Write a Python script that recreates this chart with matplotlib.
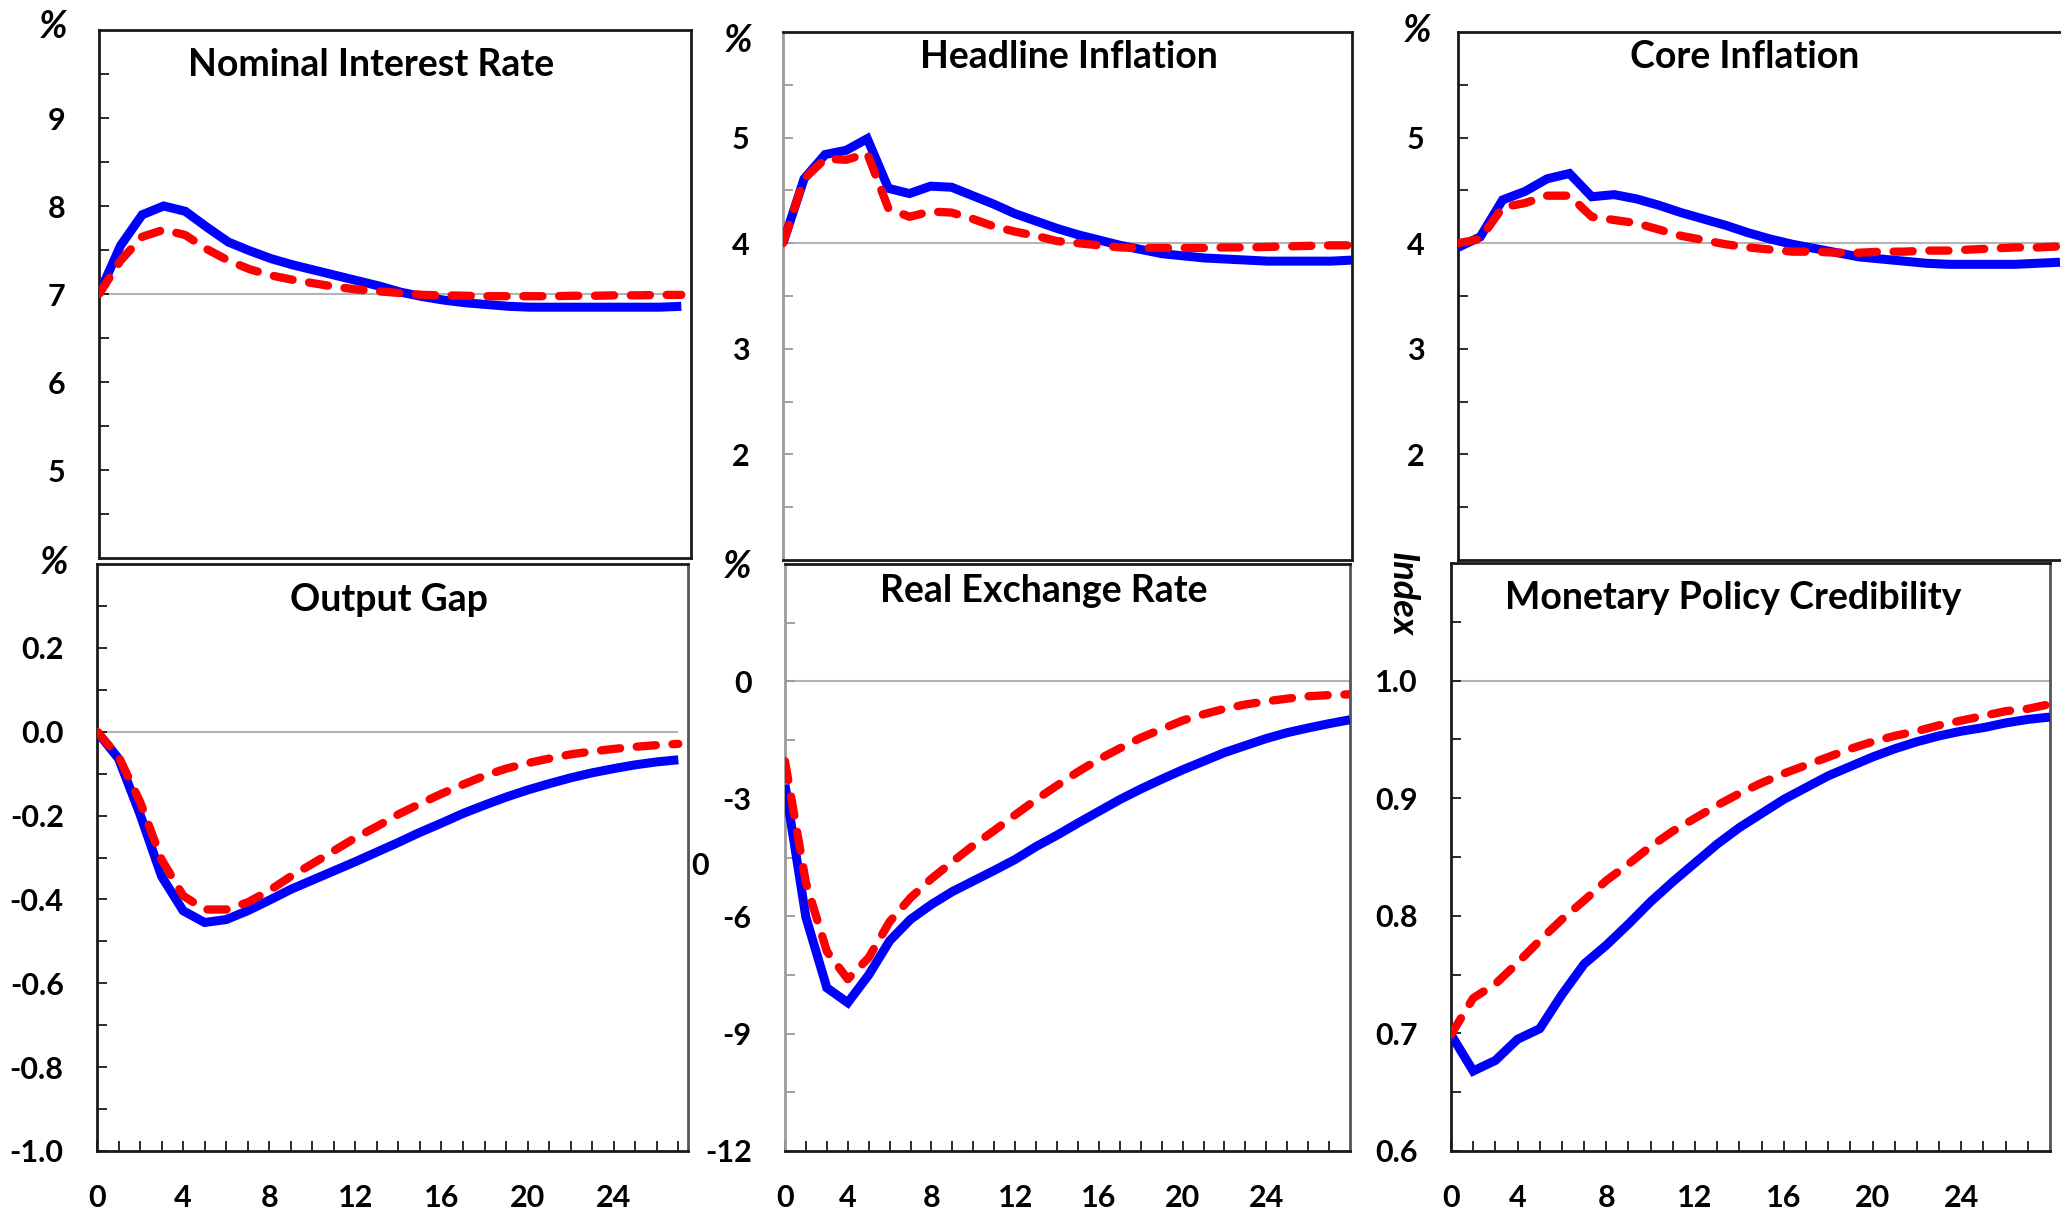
import matplotlib
matplotlib.use("Agg")
import matplotlib.pyplot as plt
from matplotlib.ticker import FixedLocator, FixedFormatter

W, H = 2061, 1212
plt.rcParams['font.family'] = ['Lato', 'DejaVu Sans']
plt.rcParams['font.weight'] = 'bold'

horizon = list(range(28))

# Nominal interest rate (%)
rate_solid = [7.00, 7.55, 7.90, 8.00, 7.94, 7.76, 7.59, 7.49, 7.40, 7.33, 7.27, 7.21, 7.15, 7.09,
              7.02, 6.97, 6.93, 6.90, 6.88, 6.86, 6.85, 6.85, 6.85, 6.85, 6.85, 6.85, 6.85, 6.86]
rate_dashed = [7.00, 7.38, 7.65, 7.73, 7.67, 7.51, 7.38, 7.28, 7.21, 7.16, 7.12, 7.08, 7.05, 7.03,
               7.01, 6.99, 6.985, 6.98, 6.975, 6.975, 6.975, 6.975, 6.98, 6.98, 6.985, 6.985, 6.99, 6.99]

# Headline inflation (%)
head_solid = [4.00, 4.61, 4.84, 4.88, 4.99, 4.52, 4.47, 4.54, 4.53, 4.45, 4.37, 4.28, 4.21, 4.14,
              4.08, 4.03, 3.98, 3.94, 3.90, 3.88, 3.86, 3.85, 3.84, 3.83, 3.83, 3.83, 3.83, 3.84]
head_dashed = [4.00, 4.61, 4.80, 4.79, 4.85, 4.33, 4.25, 4.30, 4.29, 4.23, 4.16, 4.11, 4.07, 4.02,
               4.00, 3.98, 3.96, 3.955, 3.955, 3.955, 3.955, 3.96, 3.96, 3.965, 3.97, 3.975, 3.98, 3.98]

# Core inflation (%)
core_solid = [3.96, 4.06, 4.41, 4.49, 4.61, 4.66, 4.44, 4.46, 4.42, 4.36, 4.29, 4.23, 4.17, 4.10,
              4.04, 3.99, 3.95, 3.91, 3.87, 3.85, 3.83, 3.81, 3.80, 3.80, 3.80, 3.80, 3.81, 3.82]
core_dashed = [4.00, 4.04, 4.34, 4.38, 4.45, 4.45, 4.25, 4.22, 4.19, 4.13, 4.07, 4.03, 3.99, 3.96,
               3.94, 3.92, 3.92, 3.91, 3.91, 3.92, 3.92, 3.93, 3.93, 3.94, 3.95, 3.96, 3.96, 3.97]

# Output gap (%)
gap_solid = [0.0, -0.064, -0.197, -0.345, -0.427, -0.455, -0.448, -0.427, -0.402, -0.376, -0.354,
             -0.332, -0.310, -0.287, -0.264, -0.240, -0.218, -0.195, -0.175, -0.156, -0.139, -0.124,
             -0.110, -0.098, -0.088, -0.079, -0.072, -0.067]
gap_dashed = [0.0, -0.059, -0.167, -0.305, -0.391, -0.424, -0.424, -0.407, -0.379, -0.345, -0.315,
              -0.284, -0.253, -0.226, -0.197, -0.172, -0.148, -0.126, -0.105, -0.088, -0.075, -0.064,
              -0.054, -0.047, -0.041, -0.036, -0.032, -0.029]

# Real exchange rate (%)
rer_solid = [-2.64, -6.03, -7.83, -8.21, -7.50, -6.63, -6.08, -5.70, -5.37, -5.10, -4.83, -4.55,
             -4.22, -3.93, -3.62, -3.32, -3.02, -2.75, -2.50, -2.26, -2.04, -1.82, -1.64, -1.46,
             -1.31, -1.19, -1.08, -0.98]
rer_dashed = [-2.04, -5.15, -6.90, -7.61, -7.06, -6.14, -5.53, -5.04, -4.61, -4.19, -3.81, -3.41,
              -3.02, -2.66, -2.31, -1.99, -1.71, -1.44, -1.22, -1.00, -0.84, -0.70, -0.59, -0.51,
              -0.44, -0.38, -0.35, -0.33]

# Monetary policy credibility (index)
cred_solid = [0.699, 0.668, 0.677, 0.695, 0.704, 0.733, 0.759, 0.775, 0.793, 0.812, 0.829, 0.845,
              0.861, 0.875, 0.887, 0.899, 0.909, 0.919, 0.927, 0.935, 0.942, 0.948, 0.953, 0.957,
              0.960, 0.964, 0.967, 0.969]
cred_dashed = [0.699, 0.730, 0.742, 0.760, 0.779, 0.797, 0.813, 0.830, 0.844, 0.859, 0.872, 0.883,
               0.894, 0.904, 0.913, 0.921, 0.928, 0.935, 0.942, 0.948, 0.953, 0.957, 0.962, 0.966,
               0.970, 0.974, 0.976, 0.980]

titles = ["Nominal Interest Rate", "Headline Inflation", "Core Inflation",
          "Output Gap", "Real Exchange Rate", "Monetary Policy Credibility"]
units = ["%", "%", "%", "%", "%", "Index"]
steady = [7.0, 4.0, 4.0, 0.0, 0.0, 1.0]

ytick_vals = [[5, 6, 7, 8, 9], [2, 3, 4, 5], [2, 3, 4, 5],
              [0.2, 0.0, -0.2, -0.4, -0.6, -0.8, -1.0], [0, -3, -6, -9, -12],
              [1.0, 0.9, 0.8, 0.7, 0.6]]
ytick_labels = [["5", "6", "7", "8", "9"], ["2", "3", "4", "5"], ["2", "3", "4", "5"],
                ["0.2", "0.0", "-0.2", "-0.4", "-0.6", "-0.8", "-1.0"],
                ["0", "-3", "-6", "-9", "-12"],
                ["1.0", "0.9", "0.8", "0.7", "0.6"]]
yminor = [[4.5, 5.5, 6.5, 7.5, 8.5, 9.5], [1.5, 2.5, 3.5, 4.5, 5.5], [1.5, 2.5, 3.5, 4.5, 5.5],
          [0.3, 0.1, -0.1, -0.3, -0.5, -0.7, -0.9], [1.5, -1.5, -4.5, -7.5, -10.5],
          [1.05, 0.95, 0.85, 0.75, 0.65]]
ylims = [(4, 10), (1, 6), (1, 6), (-1.0, 0.4), (-12, 3), (0.6, 1.1)]
xmax = [27.45, 27, 27.45, 27.45, 27, 27]

xtick_labels = ["0", "4", "8", "12", "16", "20", "24"]
xtick_pos = [[0, 4, 8, 12, 16, 20, 24], [0, 3, 7, 11, 15, 19, 23], [0, 3, 7, 11, 15, 19, 23]]

solid = [rate_solid, head_solid, core_solid, gap_solid, rer_solid, cred_solid]
dashed = [rate_dashed, head_dashed, core_dashed, gap_dashed, rer_dashed, cred_dashed]

# axes boxes in pixels: left, right, top, bottom
boxes = [(99, 691, 30, 558), (783, 1352, 32, 560), (1458, 2070, 32, 560),
         (97, 688, 564, 1151), (785, 1350, 564, 1151), (1451, 2050, 563, 1151)]
title_xy = [(371, 76), (1069, 68), (1745, 68), (389, 611), (1044, 602), (1733, 609)]
unit_xy = [(53, 38), (738, 52), (1417, 42), (54, 574), (737, 578), (1402, 594)]
left_spine_col = ["#1a1a1a", "#9a9a9a", "#1a1a1a", "#1a1a1a", "#9a9a9a", "#1a1a1a"]

fig = plt.figure(figsize=(W / 100, H / 100), dpi=100)


def fx(x):
    return x / W


def fy(y):
    return 1 - y / H


for i in range(6):
    L, R, T, B = boxes[i]
    ax = fig.add_axes([fx(L), fy(B), (R - L) / W, (B - T) / H])
    ax.set_xlim(0, xmax[i])
    ax.set_ylim(*ylims[i])

    ax.hlines(steady[i], horizon[0], horizon[-1], color="#b4b4b4", lw=1.5, zorder=1)
    ax.plot(horizon, solid[i], color="#0000ff", lw=6.5, solid_joinstyle="miter",
            solid_capstyle="butt", zorder=3)
    ax.plot(horizon, dashed[i], color="#ff0000", lw=6.0, linestyle=(0, (2.3, 2.0)),
            dash_capstyle="round", zorder=4)

    for side in ["top", "right", "bottom", "left"]:
        ax.spines[side].set_linewidth(2.0)
        ax.spines[side].set_color("#1a1a1a")
    ax.spines["left"].set_color(left_spine_col[i])
    if i >= 3:
        ax.spines["right"].set_color("#555555")

    ax.yaxis.set_major_locator(FixedLocator(ytick_vals[i]))
    ax.yaxis.set_major_formatter(FixedFormatter(ytick_labels[i]))
    ax.yaxis.set_minor_locator(FixedLocator(yminor[i]))
    ax.tick_params(axis="y", which="both", direction="in", length=7, width=1.3,
                   color=left_spine_col[i], pad=24, labelsize=22, labelcolor="black")

    if i < 3:
        ax.tick_params(axis="x", which="both", bottom=False, labelbottom=False)
    else:
        pos = xtick_pos[i - 3]
        ax.xaxis.set_major_locator(FixedLocator(pos))
        ax.xaxis.set_major_formatter(FixedFormatter(xtick_labels))
        ax.xaxis.set_minor_locator(FixedLocator([k for k in horizon[1:] if k not in pos and k < xmax[i]]))
        ax.tick_params(axis="x", which="both", direction="in", length=7, width=1.3,
                       color="#1a1a1a", pad=24, labelsize=22, labelcolor="black")

    tx, ty = title_xy[i]
    fig.text(fx(tx), fy(ty), titles[i], ha="center", va="baseline", fontsize=27,
             fontweight="bold")
    ux, uy = unit_xy[i]
    if units[i] == "Index":
        fig.text(fx(ux), fy(uy), units[i], ha="center", va="center", rotation=-90,
                 fontsize=26, fontweight="bold", fontstyle="italic")
    else:
        fig.text(fx(ux), fy(uy), units[i], ha="center", va="baseline", fontsize=27,
                 fontweight="bold", fontstyle="italic")

# stray zero label between the lower-left panels
fig.text(fx(700), fy(866), "0", ha="center", va="center", fontsize=22, fontweight="bold")

fig.savefig("out.png", dpi=100)
